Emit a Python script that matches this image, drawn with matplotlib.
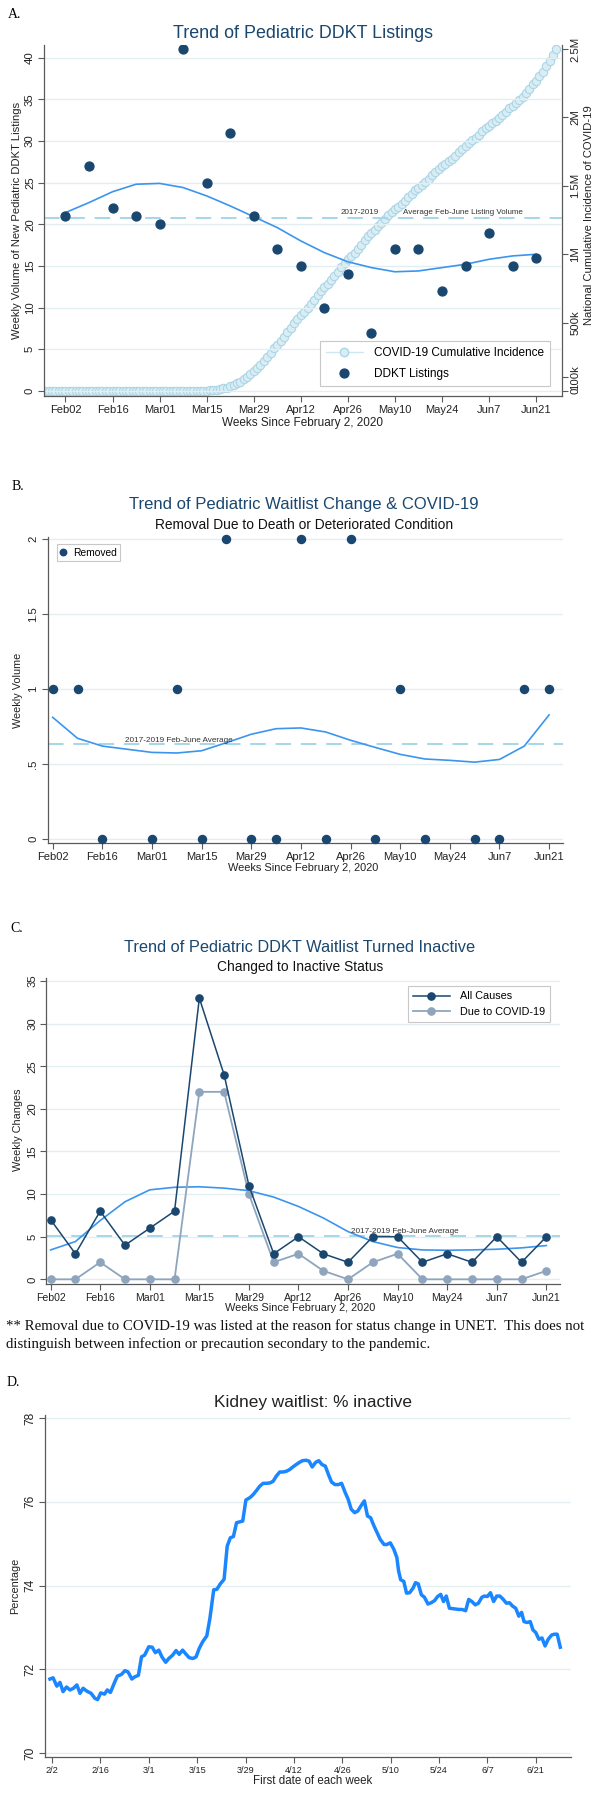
import numpy as np
import matplotlib
matplotlib.use("Agg")
import matplotlib.pyplot as plt
from matplotlib.lines import Line2D

plt.rcParams['font.family'] = ['Liberation Sans', 'DejaVu Sans']

# ---------------- DATA ----------------
week_idx = list(range(21))                     # weeks since Feb 2, 2020
week_tick_pos = [0, 2, 4, 6, 8, 10, 12, 14, 16, 18, 20]
week_tick_labels = ['Feb02', 'Feb16', 'Mar01', 'Mar15', 'Mar29', 'Apr12',
                    'Apr26', 'May10', 'May24', 'Jun7', 'Jun21']

# Panel A
ddkt_listings = [21, 27, 22, 21, 20, 41, 25, 31, 21, 17, 15, 10, 14, 7, 17, 17, 12, 15, 19, 15, 16]
ddkt_lowess = [21.4, 22.6, 23.9, 24.8, 24.9, 24.4, 23.4, 22.2, 20.9, 19.6, 18.0, 16.6,
               15.5, 14.8, 14.3, 14.4, 14.8, 15.2, 15.8, 16.2, 16.4]
ddkt_ref = 20.8
# US cumulative COVID-19 cases (thousands), daily Jan 27 - Jun 27
covid_start_day = -6
covid_cum_k = [
    0, 0, 0, 0, 0, 0, 0, 0, 0, 0, 0, 0, 0, 0, 0, 0, 0,
    0, 0, 0, 0, 0, 0, 0, 0, 0, 0.1, 0.1, 0.1, 0.1, 0.1, 0.1, 0.1, 0.1,
    0.1, 0.1, 0.1, 0.2, 0.2, 0.3, 0.4, 0.5, 0.7, 1.0, 1.3, 1.6, 2.2, 2.8, 3.6, 4.6,
    6.3, 9.2, 13.8, 19.4, 24.2, 33.6, 43.8, 54.9, 68.2, 85.6, 104.7, 124.7, 143.0,
    164.6, 189.6,
    216.7, 245.5, 278.0, 312.2, 337.1, 366.7, 396.2, 429.1, 461.4, 496.5, 526.4,
    555.3, 580.6, 607.7, 636.4, 667.8, 699.7, 732.2, 759.1, 784.3, 811.9, 840.4,
    869.2, 905.4, 938.2, 965.8, 988.2, 1012.6, 1039.9, 1069.4,
    1103.5, 1132.5, 1158.0, 1180.4, 1204.4, 1229.3, 1257.0, 1283.9, 1309.6, 1329.3,
    1347.9, 1369.4, 1390.4, 1417.8, 1442.8, 1467.8, 1486.8, 1508.3, 1528.6, 1551.9,
    1577.1, 1600.9, 1622.6, 1643.2, 1662.3, 1680.9, 1699.9, 1721.8, 1746.0, 1770.4,
    1790.2,
    1811.3, 1831.8, 1851.5, 1872.7, 1897.8, 1920.1, 1938.8, 1956.4, 1973.8, 1994.3,
    2017.1, 2042.4, 2066.5, 2085.8, 2104.3, 2127.7, 2151.9, 2179.0, 2210.3, 2242.2,
    2268.8, 2299.7, 2335.9, 2374.2, 2414.0, 2459.5, 2501.5]
covid_tick_vals = [0, 100, 500, 1000, 1500, 2000, 2500]
covid_tick_labels = ['0', '100k', '500k', '1M', '1.5M', '2M', '2.5M']

# Panel B
removed = [1, 1, 0, np.nan, 0, 1, 0, 2, 0, 0, 2, 0, 2, 0, 1, 0, np.nan, 0, 0, 1, 1]
removed_lowess = [0.813, 0.673, 0.621, 0.600, 0.579, 0.575, 0.590, 0.644, 0.700, 0.737,
                  0.742, 0.715, 0.660, 0.612, 0.566, 0.535, 0.526, 0.514, 0.532, 0.621, 0.829]
removed_ref = 0.633

# Panel C
inactive_all = [7, 3, 8, 4, 6, 8, 33, 24, 11, 3, 5, 3, 2, 5, 5, 2, 3, 2, 5, 2, 5]
inactive_covid = [0, 0, 2, 0, 0, 0, 22, 22, 10, 2, 3, 1, 0, 2, 3, 0, 0, 0, 0, 0, 1]
inactive_lowess = [3.45, 4.43, 6.9, 9.1, 10.5, 10.8, 10.86, 10.7, 10.4, 9.65, 8.55, 7.2,
                   5.6, 4.43, 3.73, 3.45, 3.41, 3.45, 3.53, 3.69, 3.96]
inactive_ref = 5.1

# Panel D (days since Feb 2, % inactive)
d_days = [-0.6, 0.3, 1.4, 2.3, 3.2, 4.2, 5.2, 6.2, 7.2, 8.1,
          9.0, 10.1, 11.3, 12.4, 13.2, 14.1, 15.2, 16.0, 16.9, 18.0,
          18.9, 20.1, 21.1, 22.0, 23.1, 23.9, 25.0, 25.9, 26.8, 28.0,
          29.0, 29.9, 30.9, 31.8, 32.9, 33.8, 34.9, 35.9, 36.8, 37.8,
          38.7, 39.7, 40.8, 41.7, 42.6, 43.6, 44.8, 45.7, 46.8, 47.7,
          48.7, 49.8, 50.7, 51.6, 52.5, 53.4, 54.3, 55.2, 56.1, 57.3,
          58.2, 59.2, 60.1, 61.1, 62.0, 63.1, 64.0, 64.9, 65.9, 66.9,
          67.9, 68.8, 69.7, 70.7, 71.6, 72.5, 73.5, 74.4, 75.3, 76.3,
          77.2, 78.1, 79.1, 80.0, 80.9, 81.9, 82.9, 83.8, 84.8, 85.7,
          86.6, 87.6, 88.5, 89.4, 90.4, 91.3, 92.2, 93.2, 94.1, 95.0,
          96.1, 96.9, 97.9, 98.9, 99.8, 100.3, 100.9, 101.8, 102.6, 103.5,
          104.5, 105.2, 106.0, 106.9, 107.8, 108.8, 109.7, 110.7, 111.6, 112.5,
          113.3, 114.1, 115.0, 115.9, 116.9, 117.8, 118.7, 119.7, 120.6, 121.5,
          122.5, 123.4, 124.4, 125.1, 126.0, 126.9, 127.8, 128.7, 129.6, 130.6,
          131.5, 132.4, 133.3, 134.2, 135.1, 135.9, 136.6, 137.5, 138.4, 139.2,
          140.0, 140.9, 141.8, 142.7, 143.6, 144.6, 145.4, 146.2, 147.1]
d_pct = [71.77, 71.80, 71.60, 71.69, 71.47, 71.58, 71.51, 71.55, 71.63, 71.43,
         71.55, 71.48, 71.43, 71.31, 71.28, 71.44, 71.41, 71.51, 71.45, 71.67,
         71.84, 71.88, 71.97, 71.94, 71.77, 71.82, 71.86, 72.30, 72.34, 72.54,
         72.53, 72.40, 72.46, 72.30, 72.17, 72.26, 72.34, 72.45, 72.36, 72.46,
         72.37, 72.28, 72.26, 72.30, 72.50, 72.66, 72.80, 73.22, 73.90, 73.91,
         74.04, 74.15, 74.94, 75.14, 75.17, 75.50, 75.52, 75.54, 76.04, 76.10,
         76.17, 76.27, 76.37, 76.44, 76.44, 76.45, 76.49, 76.61, 76.71, 76.71,
         76.73, 76.77, 76.83, 76.89, 76.94, 76.98, 76.99, 76.97, 76.83, 76.94,
         76.98, 76.89, 76.85, 76.65, 76.47, 76.41, 76.41, 76.44, 76.23, 76.06,
         75.82, 75.74, 75.78, 75.90, 76.02, 75.66, 75.62, 75.42, 75.26, 75.10,
         74.98, 74.98, 75.02, 74.87, 74.67, 74.35, 74.14, 74.10, 73.82, 73.83,
         73.94, 74.07, 74.04, 73.78, 73.72, 73.56, 73.59, 73.64, 73.74, 73.79,
         73.62, 73.75, 73.46, 73.45, 73.44, 73.43, 73.43, 73.40, 73.67, 73.62,
         73.54, 73.58, 73.72, 73.75, 73.74, 73.83, 73.62, 73.75, 73.75, 73.67,
         73.58, 73.59, 73.51, 73.46, 73.27, 73.36, 73.14, 73.12, 73.14, 72.94,
         72.88, 72.72, 72.75, 72.56, 72.72, 72.82, 72.84, 72.84, 72.53]
d_tick_days = [0, 14, 28, 42, 56, 70, 84, 98, 112, 126, 140]
d_tick_labels = ['2/2', '2/16', '3/1', '3/15', '3/29', '4/12', '4/26', '5/10', '5/24', '6/7', '6/21']
d_yticks = [70, 72, 74, 76, 78]

# ---------------- STYLE ----------------
W, H = 594, 1800
NAVY = '#1a476f'
LOWESS = '#3b95ee'
REFC = '#a6d6e8'
GRID = '#e3eef1'
SPINE = '#5a5a5a'
COVIDC = '#8fa5bd'
DLINE = '#1a86ff'
SERIF = ['Liberation Serif', 'DejaVu Serif']
TXT = '#222222'

fig = plt.figure(figsize=(W / 100, H / 100), dpi=100)


def px_axes(x0, y0, x1, y1):
    return fig.add_axes([x0 / W, 1 - y1 / H, (x1 - x0) / W, (y1 - y0) / H])


def ftext(x, y, s, **kw):
    kw.setdefault('va', 'center')
    return fig.text(x / W, 1 - y / H, s, **kw)


def rot_yticklabels(ax):
    for lbl in ax.get_yticklabels():
        lbl.set_rotation(90)
        lbl.set_va('center')


def style_axes(ax, xls=8.0, yls=8.0):
    for sp in ['top', 'right']:
        ax.spines[sp].set_visible(False)
    for sp in ['left', 'bottom']:
        ax.spines[sp].set_color(SPINE)
        ax.spines[sp].set_linewidth(0.9)
    ax.tick_params(axis='both', colors=SPINE, length=4, width=0.8, labelcolor=TXT)
    ax.tick_params(axis='x', labelsize=xls, pad=2.5)
    ax.tick_params(axis='y', labelsize=yls, pad=2.5)
    ax.grid(axis='y', color=GRID, lw=1.0)
    ax.set_axisbelow(True)
    rot_yticklabels(ax)


# ---------------- PANEL A ----------------
axA = px_axes(44, 45, 562, 396)
axA2 = axA.twinx()
axA.set_zorder(axA2.get_zorder() + 1)
axA.patch.set_visible(False)

covid_weeks = (np.arange(len(covid_cum_k)) + covid_start_day) / 7.0
axA2.plot(covid_weeks, covid_cum_k, '-', color='#cfe7f1', lw=1.0, marker='o', ms=6.0,
          mfc='#d9edf4', mec='#acd5e6', mew=0.8)
axA.axhline(ddkt_ref, color=REFC, lw=1.4, ls=(0, (8, 5)), zorder=1)
axA.plot(week_idx, ddkt_lowess, color=LOWESS, lw=1.2, zorder=3)
axA.plot(week_idx, ddkt_listings, 'o', color=NAVY, ms=6.4, zorder=4)

axA.set_xlim(-0.913, 21.10)
axA.set_ylim(-0.6, 41.5)
axA2.set_ylim(-0.6 * 60.96, 41.5 * 60.96)
axA.set_xticks(week_tick_pos)
axA.set_xticklabels(week_tick_labels)
axA.set_yticks([0, 5, 10, 15, 20, 25, 30, 35, 40])
style_axes(axA, xls=8.0, yls=8.2)
for sp in ['top', 'left', 'bottom']:
    axA2.spines[sp].set_visible(False)
axA2.spines['right'].set_color(SPINE)
axA2.spines['right'].set_linewidth(0.9)
axA2.set_yticks(covid_tick_vals)
axA2.set_yticklabels(covid_tick_labels)
axA2.tick_params(axis='y', colors=SPINE, length=4, width=0.8, labelcolor=TXT,
                 labelsize=8.2, pad=2.0)
rot_yticklabels(axA2)

axA.text(11.71, ddkt_ref + 0.15, '2017-2019', fontsize=5.8, color='#333333', va='bottom')
axA.text(14.33, ddkt_ref + 0.15, 'Average Feb-June Listing Volume', fontsize=5.8,
         color='#333333', va='bottom')

hA = [Line2D([], [], color='#cfe7f1', lw=1.0, marker='o', ms=6.0, mfc='#d9edf4',
             mec='#acd5e6'),
      Line2D([], [], ls='none', marker='o', color=NAVY, ms=6.4)]
legA = axA.legend(hA, ['COVID-19 Cumulative Incidence', 'DDKT Listings'],
                  loc='lower right', bbox_to_anchor=(0.988, 0.012), fontsize=8.5,
                  frameon=True, fancybox=False, edgecolor='#c8c8c8', framealpha=1,
                  handlelength=3.2, labelspacing=0.75, borderpad=0.5, handletextpad=0.9)
legA.get_frame().set_linewidth(0.8)

ftext(8, 15, 'A.', family=SERIF, fontsize=10)
ftext(303, 33, 'Trend of Pediatric DDKT Listings', fontsize=12.9, color=NAVY, ha='center')
ftext(17, 220, 'Weekly Volume of New Pediatric DDKT Listings', fontsize=8.1, rotation=90,
      ha='center', color=TXT)
ftext(589, 215, 'National Cumulative Incidence of COVID-19', fontsize=8.1, rotation=90,
      ha='center', color=TXT)
ftext(302, 423, 'Weeks Since February 2, 2020', fontsize=8.45, ha='center', color=TXT)

# ---------------- PANEL B ----------------
axB = px_axes(47.5, 537.3, 563, 843)
axB.axhline(removed_ref, color=REFC, lw=1.4, ls=(0, (8, 5)), zorder=1)
axB.plot(week_idx, removed_lowess, color=LOWESS, lw=1.2, zorder=3)
axB.plot(week_idx, removed, 'o', color=NAVY, ms=5.8, zorder=4, clip_on=False,
         label='Removed')
axB.set_xlim(-0.209, 20.56)
axB.set_ylim(-0.025, 2.013)
axB.set_xticks(week_tick_pos)
axB.set_xticklabels(week_tick_labels)
axB.set_yticks([0, 0.5, 1, 1.5, 2])
axB.set_yticklabels(['0', '.5', '1', '1.5', '2'])
style_axes(axB, xls=8.0, yls=8.2)
axB.text(2.9, removed_ref + 0.005, '2017-2019 Feb-June Average', fontsize=5.9,
         color='#333333', va='bottom')
legB = axB.legend(loc='upper left', bbox_to_anchor=(0.008, 0.994), fontsize=7.4,
                  frameon=True, fancybox=False, edgecolor='#c8c8c8', framealpha=1,
                  handlelength=0.6, handletextpad=0.6, borderpad=0.35, markerscale=0.8)
legB.get_frame().set_linewidth(0.8)

ftext(12, 487, 'B.', family=SERIF, fontsize=10)
ftext(304, 505, 'Trend of Pediatric Waitlist Change & COVID-19', fontsize=12.0,
      color=NAVY, ha='center')
ftext(304, 525, 'Removal Due to Death or Deteriorated Condition', fontsize=9.9,
      ha='center', color='#111111')
ftext(18, 690, 'Weekly Volume', fontsize=7.8, rotation=90, ha='center', color=TXT)
ftext(303, 868, 'Weeks Since February 2, 2020', fontsize=7.9, ha='center', color=TXT)

# ---------------- PANEL C ----------------
axC = px_axes(46.2, 978, 560, 1284)
axC.axhline(inactive_ref, color=REFC, lw=1.4, ls=(0, (8, 5)), zorder=1)
axC.plot(week_idx, inactive_lowess, color=LOWESS, lw=1.2, zorder=2)
axC.plot(week_idx, inactive_covid, '-o', color=COVIDC, ms=5.2, lw=1.3, zorder=3,
         clip_on=False, label='Due to COVID-19')
axC.plot(week_idx, inactive_all, '-o', color=NAVY, ms=5.2, lw=1.1, zorder=4,
         clip_on=False, label='All Causes')
axC.set_xlim(-0.178, 20.55)
axC.set_ylim(-0.55, 35.36)
axC.set_xticks(week_tick_pos)
axC.set_xticklabels(week_tick_labels)
axC.set_yticks([0, 5, 10, 15, 20, 25, 30, 35])
style_axes(axC, xls=7.6, yls=8.2)
axC.text(12.1, inactive_ref + 0.1, '2017-2019 Feb-June Average', fontsize=5.9,
         color='#333333', va='bottom')
hC, lC = axC.get_legend_handles_labels()
legC = axC.legend(hC[::-1], lC[::-1], loc='upper right', bbox_to_anchor=(0.992, 0.99),
                  fontsize=7.8, frameon=True, fancybox=False, edgecolor='#c8c8c8',
                  framealpha=1, handlelength=3.4, handletextpad=1.0, labelspacing=0.5,
                  borderpad=0.45)
legC.get_frame().set_linewidth(0.8)

ftext(10, 929, 'C.', family=SERIF, fontsize=10)
ftext(300, 948, 'Trend of Pediatric DDKT Waitlist Turned Inactive', fontsize=11.8,
      color=NAVY, ha='center')
ftext(300, 967, 'Changed to Inactive Status', fontsize=9.9, ha='center', color='#111111')
ftext(18, 1130, 'Weekly Changes', fontsize=7.8, rotation=90, ha='center', color=TXT)
ftext(300, 1308, 'Weeks Since February 2, 2020', fontsize=7.9, ha='center', color=TXT)
ftext(6, 1326, '** Removal due to COVID-19 was listed at the reason for status change in '
      'UNET.  This does not', family=SERIF, fontsize=10.7, color='#111111')
ftext(6, 1344, 'distinguish between infection or precaution secondary to the pandemic.',
      family=SERIF, fontsize=10.7, color='#111111')

# ---------------- PANEL D ----------------
axD = px_axes(45, 1415, 571, 1757)
axD.plot(d_days, d_pct, color=DLINE, lw=2.5, solid_joinstyle='round')
axD.set_xlim(-2.03, 150.2)
axD.set_ylim(69.91, 78.07)
axD.set_xticks(d_tick_days)
axD.set_xticklabels(d_tick_labels)
axD.set_yticks(d_yticks)
style_axes(axD, xls=6.6, yls=8.6)

ftext(7, 1382, 'D.', family=SERIF, fontsize=10)
ftext(313, 1402, 'Kidney waitlist: % inactive', fontsize=12.4, color='#222222', ha='center')
ftext(15, 1586, 'Percentage', fontsize=7.8, rotation=90, ha='center', color=TXT)
ftext(313, 1781, 'First date of each week', fontsize=8.3, ha='center', color=TXT)

fig.savefig('out.png', dpi=100, facecolor='white')
